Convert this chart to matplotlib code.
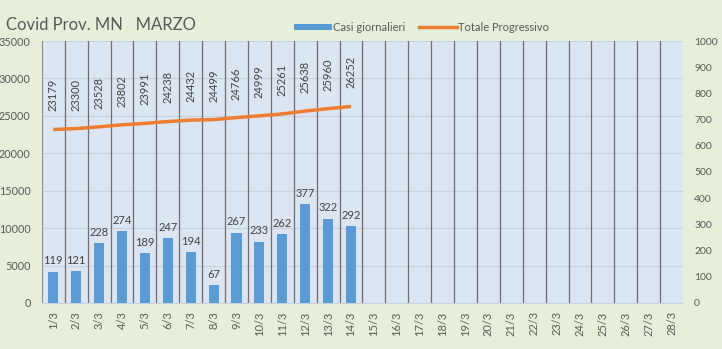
import matplotlib.pyplot as plt
import numpy as np

plt.rcParams['font.family'] = ['Lato', 'DejaVu Sans']

# Dati marzo
giorni = [f"{d}/3" for d in range(1, 29)]
casi_giornalieri = [119, 121, 228, 274, 189, 247, 194, 67, 267, 233, 262, 377, 322, 292]
totale_progressivo = [23179, 23300, 23528, 23802, 23991, 24238, 24432, 24499,
                      24766, 24999, 25261, 25638, 25960, 26252]

verde_sfondo = "#E6EFD9"
blu_area = "#DCE6F2"
blu_barre = "#5B9BD5"
arancio = "#ED7D31"
grigio_testo = "#595959"

fig = plt.figure(figsize=(7.22, 3.49), dpi=100, facecolor=verde_sfondo)
ax = fig.add_axes([0.058, 0.132, 0.888, 0.7505])
ax2 = ax.twinx()

x = np.arange(len(giorni))
xc = np.arange(len(casi_giornalieri))
xt = np.arange(len(totale_progressivo))

# asse sinistro: totale progressivo (linea)
ax.set_facecolor(blu_area)
ax.set_xlim(-0.5, len(giorni) - 0.5)
ax.set_ylim(0, 35000)
ax.set_yticks(np.arange(0, 35001, 5000))
ax.grid(axis="y", color="#C9D3DE", lw=0.8)
for b in np.arange(0.5, len(giorni) - 0.5, 1):
    ax.axvline(b, color="#6E6E6E", lw=0.9, zorder=1)
ax.set_axisbelow(True)

# asse destro: casi giornalieri (barre)
ax2.set_ylim(0, 1000)
ax2.set_yticks(np.arange(0, 1001, 100))
barre = ax2.bar(xc, casi_giornalieri, width=0.44, color=blu_barre, zorder=2,
                label="Casi giornalieri")
for xi, v in zip(xc, casi_giornalieri):
    ax2.annotate(str(v), (xi, v), xytext=(0, 4), textcoords="offset points",
                 ha="center", va="bottom", fontsize=8, color="#404040")

linea, = ax2.plot([], [], color=arancio, lw=2.5, label="Totale Progressivo")
ax2.plot(xt, np.array(totale_progressivo) / 35, color=arancio, lw=2.5,
         solid_capstyle="butt", zorder=3)
for xi, v in zip(xt, totale_progressivo):
    ax2.annotate(str(v), (xi, v / 35), xytext=(0, 13), textcoords="offset points",
                 ha="center", va="bottom", rotation=90, fontsize=8, color="#404040")

for a in (ax, ax2):
    for s in a.spines.values():
        s.set_visible(False)
    a.tick_params(length=0, colors=grigio_testo, labelsize=7.8)
ax.spines["left"].set_visible(True)
ax.spines["left"].set_color("#8C8C8C")
ax.spines["bottom"].set_visible(True)
ax.spines["bottom"].set_color("#C9D3DE")

ax.set_xticks(x)
ax.set_xticklabels(giorni, rotation=90, fontsize=8, color=grigio_testo)
ax.tick_params(axis="x", pad=6)
ax.tick_params(axis="y", pad=8)
ax2.tick_params(axis="y", pad=8, labelsize=7.5)

fig.text(0.009, 0.915, "Covid Prov. MN   MARZO", fontsize=12, color=grigio_testo,
         ha="left", va="baseline")
fig.legend(handles=[barre, linea], loc="center", bbox_to_anchor=(0.584, 0.922),
           ncol=2, frameon=False, fontsize=8, handlelength=3.4, handleheight=0.45,
           handletextpad=0.1, columnspacing=1.2, labelcolor=grigio_testo)

fig.savefig("out.png", dpi=100, facecolor=verde_sfondo)
